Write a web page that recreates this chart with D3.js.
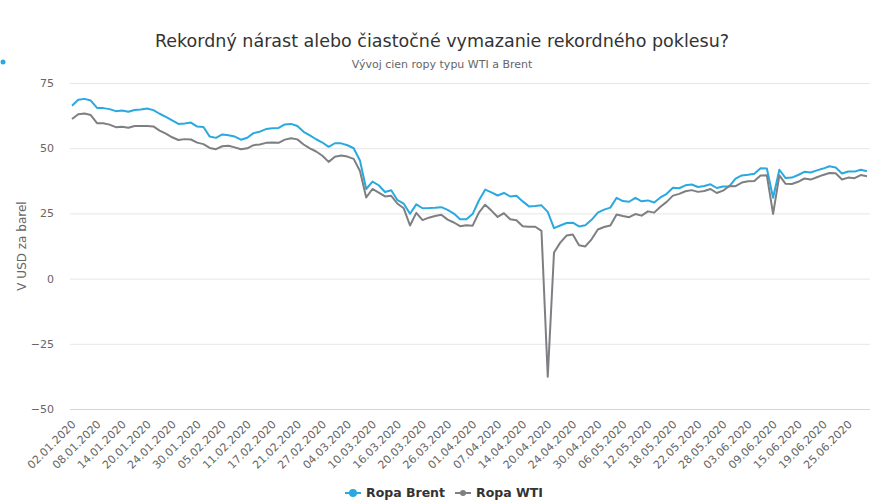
<!DOCTYPE html>
<html>
<head>
<meta charset="utf-8">
<script src="https://cdn.jsdelivr.net/npm/d3@7"></script>
<style>
  body { margin: 0; background: #fff; }
  text { font-family: "DejaVu Sans", Verdana, sans-serif; }
</style>
</head>
<body>
<div id="chart"></div>
<script>
// trading days (category axis)
var dates = [
  "02.01.2020","03.01.2020","06.01.2020","07.01.2020","08.01.2020","09.01.2020","10.01.2020","13.01.2020",
  "14.01.2020","15.01.2020","16.01.2020","17.01.2020","20.01.2020","21.01.2020","22.01.2020","23.01.2020",
  "24.01.2020","27.01.2020","28.01.2020","29.01.2020","30.01.2020","31.01.2020","03.02.2020","04.02.2020",
  "05.02.2020","06.02.2020","07.02.2020","10.02.2020","11.02.2020","12.02.2020","13.02.2020","14.02.2020",
  "17.02.2020","18.02.2020","19.02.2020","20.02.2020","21.02.2020","24.02.2020","25.02.2020","26.02.2020",
  "27.02.2020","28.02.2020","02.03.2020","03.03.2020","04.03.2020","05.03.2020","06.03.2020","09.03.2020",
  "10.03.2020","11.03.2020","12.03.2020","13.03.2020","16.03.2020","17.03.2020","18.03.2020","19.03.2020",
  "20.03.2020","23.03.2020","24.03.2020","25.03.2020","26.03.2020","27.03.2020","30.03.2020","31.03.2020",
  "01.04.2020","02.04.2020","03.04.2020","06.04.2020","07.04.2020","08.04.2020","09.04.2020","13.04.2020",
  "14.04.2020","15.04.2020","16.04.2020","17.04.2020","20.04.2020","21.04.2020","22.04.2020","23.04.2020",
  "24.04.2020","27.04.2020","28.04.2020","29.04.2020","30.04.2020","01.05.2020","04.05.2020","05.05.2020",
  "06.05.2020","07.05.2020","08.05.2020","11.05.2020","12.05.2020","13.05.2020","14.05.2020","15.05.2020",
  "18.05.2020","19.05.2020","20.05.2020","21.05.2020","22.05.2020","25.05.2020","26.05.2020","27.05.2020",
  "28.05.2020","29.05.2020","01.06.2020","02.06.2020","03.06.2020","04.06.2020","05.06.2020","08.06.2020",
  "09.06.2020","10.06.2020","11.06.2020","12.06.2020","15.06.2020","16.06.2020","17.06.2020","18.06.2020",
  "19.06.2020","22.06.2020","23.06.2020","24.06.2020","25.06.2020","26.06.2020","29.06.2020","30.06.2020"
]

var brent = [
  66.25, 68.60, 68.91, 68.27, 65.44, 65.37, 64.98, 64.20,
  64.49, 64.00, 64.62, 64.85, 65.20, 64.59, 63.21, 62.04,
  60.69, 59.32, 59.51, 59.81, 58.29, 58.16, 54.45, 53.96,
  55.28, 54.93, 54.47, 53.27, 54.01, 55.79, 56.34, 57.32,
  57.67, 57.75, 59.12, 59.31, 58.50, 56.30, 54.95, 53.43,
  52.18, 50.52, 51.90, 51.86, 51.13, 49.99, 45.27, 34.36,
  37.22, 35.79, 33.22, 33.85, 30.05, 28.73, 24.88, 28.47,
  26.98, 27.03, 27.15, 27.39, 26.34, 24.93, 22.76, 22.74,
  24.74, 29.94, 34.11, 33.05, 31.87, 32.84, 31.48, 31.74,
  29.60, 27.69, 27.82, 28.08, 25.57, 19.33, 20.37, 21.33,
  21.44, 19.99, 20.46, 22.54, 25.27, 26.44, 27.20, 30.97,
  29.72, 29.46, 30.97, 29.63, 29.98, 29.19, 31.13, 32.50,
  34.81, 34.65, 35.75, 36.06, 35.13, 35.53, 36.17, 34.74,
  35.29, 35.33, 38.32, 39.57, 39.79, 40.20, 42.30, 42.20,
  31.00, 41.73, 38.55, 38.73, 39.72, 40.96, 40.71, 41.51,
  42.19, 43.08, 42.63, 40.31, 41.05, 41.02, 41.71, 41.15
]

var wti = [
  61.18, 63.05, 63.27, 62.70, 59.61, 59.56, 59.04, 58.08,
  58.23, 57.81, 58.52, 58.54, 58.50, 58.34, 56.74, 55.59,
  54.19, 53.14, 53.48, 53.33, 52.14, 51.56, 50.11, 49.61,
  50.75, 50.95, 50.32, 49.57, 49.94, 51.17, 51.42, 52.05,
  52.20, 52.05, 53.29, 53.78, 53.38, 51.43, 49.90, 48.73,
  47.09, 44.76, 46.75, 47.18, 46.78, 45.90, 41.28, 31.13,
  34.36, 32.98, 31.50, 31.73, 28.70, 26.95, 20.37, 25.22,
  22.43, 23.36, 24.01, 24.49, 22.60, 21.51, 20.09, 20.48,
  20.31, 25.32, 28.34, 26.08, 23.63, 25.09, 22.76, 22.41,
  20.11, 19.87, 19.87, 18.27, -37.63, 10.01, 13.78, 16.50,
  16.94, 12.78, 12.34, 15.06, 18.84, 19.78, 20.39, 24.56,
  23.99, 23.55, 24.74, 24.14, 25.78, 25.29, 27.56, 29.43,
  31.82, 32.50, 33.49, 33.92, 33.25, 33.60, 34.35, 32.81,
  33.71, 35.49, 35.44, 36.81, 37.29, 37.41, 39.55, 39.60,
  24.80, 39.60, 36.34, 36.26, 37.12, 38.38, 37.96, 38.84,
  39.75, 40.46, 40.37, 38.01, 38.72, 38.49, 39.70, 39.27
]

var yTicks = [-50, -25, 0, 25, 50, 75]
var seriesNames = ["Ropa Brent", "Ropa WTI"]
var seriesColors = ["#2aa9e0", "#7d7f82"]

var width = 880
var height = 500

var svg = d3.select("#chart")
  .append("svg")
    .attr("width", width)
    .attr("height", height)

var x = d3.scalePoint()
  .domain(dates)
  .range([72, 867])

var y = d3.scaleLinear()
  .domain([-50, 75])
  .range([409, 83])

// stray legend dot at the left edge, as in the original
svg.append("circle")
  .attr("cx", 3).attr("cy", 62).attr("r", 2.5)
  .attr("fill", seriesColors[0])

// titles
svg.append("text")
  .attr("x", 442).attr("y", 47)
  .attr("text-anchor", "middle")
  .attr("font-size", 17.5)
  .attr("fill", "#333")
  .text("Rekordný nárast alebo čiastočné vymazanie rekordného poklesu?")

svg.append("text")
  .attr("x", 442).attr("y", 68)
  .attr("text-anchor", "middle")
  .attr("font-size", 11)
  .attr("fill", "#666")
  .text("Vývoj cien ropy typu WTI a Brent")

// y axis + grid
var yAxis = svg.append("g")
  .attr("transform", "translate(70,0)")
  .call(d3.axisLeft(y).tickValues(yTicks).tickSize(-800).tickPadding(16))

yAxis.select(".domain").remove()
yAxis.selectAll(".tick line")
  .attr("stroke", function(d){ return d == -50 ? "#ccd6eb" : "#e6e6e6" })
yAxis.selectAll(".tick text")
  .attr("fill", "#666")
  .attr("font-size", 11)
  .attr("font-family", "DejaVu Sans, sans-serif")

svg.append("text")
  .attr("transform", "translate(26,246) rotate(-90)")
  .attr("text-anchor", "middle")
  .attr("font-size", 12)
  .attr("fill", "#666")
  .text("V USD za barel")

// x axis labels, every 4th day
var xAxis = svg.append("g")
  .attr("transform", "translate(0,409)")
  .call(d3.axisBottom(x)
    .tickValues(dates.filter(function(d, i){ return i % 4 == 0 }))
    .tickSize(0))

xAxis.select(".domain").remove()
xAxis.selectAll(".tick text")
  .attr("fill", "#666")
  .attr("font-size", 11)
  .attr("font-family", "DejaVu Sans, sans-serif")
  .attr("text-anchor", "end")
  .attr("dy", null)
  .attr("y", 0)
  .attr("transform", "translate(4,16) rotate(-45)")

// lines
var line = d3.line()
  .x(function(d, i){ return x(dates[i]) })
  .y(function(d){ return y(d) })

var series = [brent, wti]
series.forEach(function(s, k){
  svg.append("path")
    .datum(s)
    .attr("fill", "none")
    .attr("stroke", seriesColors[k])
    .attr("stroke-width", 2)
    .attr("stroke-linejoin", "round")
    .attr("d", line)
})

// legend
var legendX = [345, 455]
var legend = svg.append("g")
  .selectAll("g")
  .data(seriesNames)
  .enter()
  .append("g")
    .attr("transform", function(d, i){ return "translate(" + legendX[i] + ",493)" })

legend.append("line")
  .attr("x1", 0).attr("x2", 16)
  .attr("stroke", function(d, i){ return seriesColors[i] })
  .attr("stroke-width", 2)

legend.append("circle")
  .attr("cx", 8).attr("r", function(d, i){ return i ? 3 : 4 })
  .attr("fill", function(d, i){ return seriesColors[i] })

legend.append("text")
  .attr("x", 21).attr("y", 4)
  .attr("font-size", 12.5)
  .attr("font-weight", "bold")
  .attr("fill", "#333")
  .text(function(d){ return d })
</script>
</body>
</html>
